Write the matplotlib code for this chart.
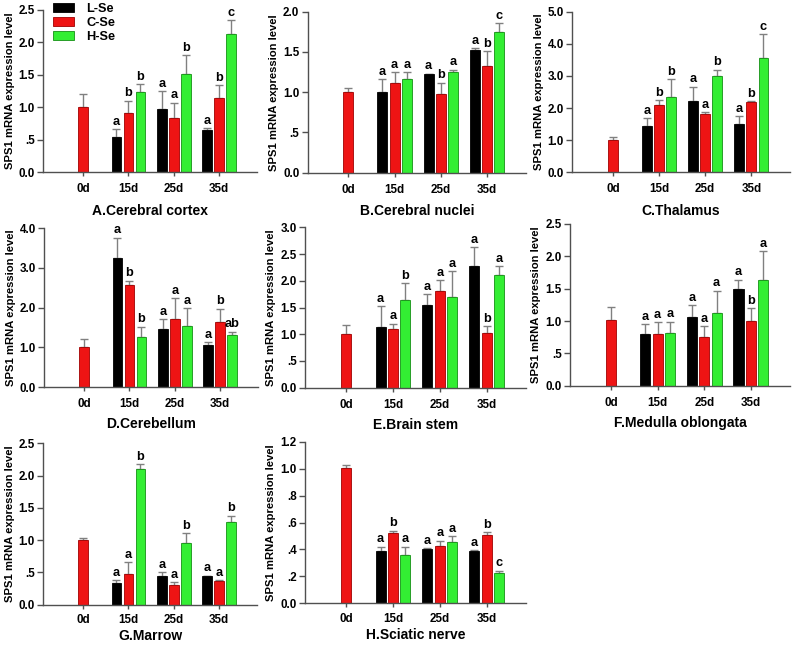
import numpy as np
import matplotlib
matplotlib.use("Agg")
import matplotlib.pyplot as plt
from matplotlib import font_manager as fm

# ---------------- data ----------------
days = ["0d", "15d", "25d", "35d"]
groups = ["L-Se", "C-Se", "H-Se"]
colors = ["#000000", "#ee1414", "#33ee33"]
edge_colors = ["#000000", "#a00000", "#159015"]

titles = ["A.Cerebral cortex", "B.Cerebral nuclei", "C.Thalamus",
          "D.Cerebellum", "E.Brain stem", "F.Medulla oblongata",
          "G.Marrow", "H.Sciatic nerve"]
ymax = [2.5, 2.0, 5.0, 4.0, 3.0, 2.5, 2.5, 1.2]
ystep = [0.5, 0.5, 1.0, 1.0, 0.5, 0.5, 0.5, 0.2]

# C-Se includes the 0d control; L-Se and H-Se are 15d, 25d, 35d
A_L = [0.55, 0.97, 0.65];  A_Le = [0.11, 0.28, 0.03]
A_C = [1.01, 0.91, 0.83, 1.14];  A_Ce = [0.19, 0.19, 0.24, 0.20]
A_H = [1.24, 1.51, 2.13];  A_He = [0.12, 0.29, 0.21]
A_sig = [["a", "b", "b"], ["a", "a", "b"], ["a", "b", "c"]]

B_L = [1.00, 1.22, 1.52];  B_Le = [0.16, 0.01, 0.03]
B_C = [1.00, 1.12, 0.98, 1.32];  B_Ce = [0.05, 0.13, 0.14, 0.19]
B_H = [1.17, 1.25, 1.75];  B_He = [0.08, 0.03, 0.11]
B_sig = [["a", "a", "a"], ["a", "b", "a"], ["a", "b", "c"]]

C_L = [1.44, 2.22, 1.51];  C_Le = [0.24, 0.45, 0.23]
C_C = [1.01, 2.10, 1.83, 2.20];  C_Ce = [0.09, 0.15, 0.04, 0.01]
C_H = [2.33, 3.00, 3.56];  C_He = [0.56, 0.19, 0.74]
C_sig = [["a", "b", "b"], ["a", "a", "b"], ["a", "b", "c"]]

D_L = [3.24, 1.46, 1.06];  D_Le = [0.52, 0.25, 0.07]
D_C = [1.02, 2.57, 1.72, 1.63];  D_Ce = [0.20, 0.11, 0.52, 0.34]
D_H = [1.27, 1.54, 1.31];  D_He = [0.25, 0.44, 0.08]
D_sig = [["a", "b", "b"], ["a", "a", "a"], ["a", "b", "ab"]]

E_L = [1.13, 1.54, 2.28];  E_Le = [0.39, 0.21, 0.35]
E_C = [1.01, 1.09, 1.81, 1.03];  E_Ce = [0.16, 0.11, 0.20, 0.12]
E_H = [1.64, 1.69, 2.11];  E_He = [0.32, 0.49, 0.16]
E_sig = [["a", "a", "b"], ["a", "a", "a"], ["a", "b", "a"]]

F_L = [0.80, 1.06, 1.49];  F_Le = [0.15, 0.18, 0.15]
F_C = [1.02, 0.80, 0.76, 1.00];  F_Ce = [0.20, 0.18, 0.16, 0.20]
F_H = [0.81, 1.12, 1.63];  F_He = [0.18, 0.35, 0.45]
F_sig = [["a", "a", "a"], ["a", "a", "a"], ["a", "b", "a"]]

G_L = [0.34, 0.45, 0.44];  G_Le = [0.04, 0.05, 0.01]
G_C = [1.00, 0.47, 0.31, 0.37];  G_Ce = [0.03, 0.19, 0.04, 0.01]
G_H = [2.10, 0.96, 1.28];  G_He = [0.08, 0.15, 0.10]
G_sig = [["a", "a", "b"], ["a", "a", "b"], ["a", "a", "b"]]

H_L = [0.386, 0.40, 0.39];  H_Le = [0.034, 0.01, 0.005]
H_C = [1.005, 0.525, 0.426, 0.507];  H_Ce = [0.025, 0.015, 0.04, 0.023]
H_H = [0.356, 0.455, 0.223];  H_He = [0.064, 0.045, 0.02]
H_sig = [["a", "b", "a"], ["a", "a", "a"], ["a", "b", "c"]]

panels = [
    (A_L, A_Le, A_C, A_Ce, A_H, A_He, A_sig),
    (B_L, B_Le, B_C, B_Ce, B_H, B_He, B_sig),
    (C_L, C_Le, C_C, C_Ce, C_H, C_He, C_sig),
    (D_L, D_Le, D_C, D_Ce, D_H, D_He, D_sig),
    (E_L, E_Le, E_C, E_Ce, E_H, E_He, E_sig),
    (F_L, F_Le, F_C, F_Ce, F_H, F_He, F_sig),
    (G_L, G_Le, G_C, G_Ce, G_H, G_He, G_sig),
    (H_L, H_Le, H_C, H_Ce, H_H, H_He, H_sig),
]

# ---------------- fonts ----------------
FAMS = ["Liberation Sans", "DejaVu Sans"]
plt.rcParams["font.family"] = FAMS
plt.rcParams["font.weight"] = "bold"


def fp(size):
    return fm.FontProperties(family=FAMS, weight="bold", size=size)


TICK_FS = 8.4
TITLE_FS = 10.0
YLAB_FS = 8.1
SIG_FS = 9.2
LEG_FS = 9.2

W, H = 794, 646
fig = plt.figure(figsize=(W / 100, H / 100), dpi=100)

# axes rectangles in pixels: (left, top, right, bottom)
rects_px = [
    (43.3, 10.0, 257, 172.3), (307.7, 11.7, 526, 172.7), (572.3, 11.7, 790, 172.3),
    (44.3, 228.3, 258, 387.0), (305.0, 227.3, 526, 387.7), (570.0, 224.0, 790, 385.7),
    (43.3, 443.3, 257, 604.7), (305.0, 441.7, 526, 603.3),
]
title_pad = [6, 6, 6, 5, 5, 5, 2, 2]

bw = 0.215
off = 0.265
spine_c = "#505050"
err_c = "#808080"


def fmt(v):
    s = f"{v:.1f}"
    if 0 < v < 1:
        s = s[1:]
    return s


for p, (rect, data) in enumerate(zip(rects_px, panels)):
    l, t, r, b = rect
    ax = fig.add_axes([l / W, 1 - b / H, (r - l) / W, (b - t) / H])
    Lm, Le, Cm, Ce, Hm, He, sig = data
    handles = []
    # 0d control (C-Se only)
    ax.bar(0, Cm[0], bw, color=colors[1], edgecolor=edge_colors[1], linewidth=0.6, zorder=2)
    ax.errorbar(0, Cm[0], yerr=[[0], [Ce[0]]], fmt="none", ecolor=err_c,
                elinewidth=1.0, capsize=2.6, capthick=1.0, zorder=1)
    series = [(Lm, Le), (Cm[1:], Ce[1:]), (Hm, He)]
    for g, (m, e) in enumerate(series):
        xs = np.arange(1, 4) + (g - 1) * off
        bars = ax.bar(xs, m, bw, color=colors[g], edgecolor=edge_colors[g],
                      linewidth=0.6, zorder=2, label=groups[g])
        handles.append(bars)
        ax.errorbar(xs, m, yerr=[np.zeros(3), e], fmt="none", ecolor=err_c,
                    elinewidth=1.0, capsize=2.6, capthick=1.0, zorder=1)
        for j in range(3):
            ax.annotate(sig[j][g], (xs[j], m[j] + e[j]), xytext=(0, 1.0),
                        textcoords="offset points", ha="center", va="bottom",
                        fontproperties=fp(SIG_FS))
    ax.set_xlim(-0.88, 3.84)
    ax.set_ylim(0, ymax[p])
    ticks = np.arange(0, ymax[p] + 1e-9, ystep[p])
    ax.set_yticks(ticks)
    ax.set_yticklabels([fmt(v) for v in ticks], fontproperties=fp(TICK_FS))
    ax.set_xticks(range(4))
    ax.set_xticklabels(days, fontproperties=fp(TICK_FS))
    ax.tick_params(axis="y", direction="out", length=4, width=1, color=spine_c, pad=2)
    ax.tick_params(axis="x", direction="out", length=3, width=1, color=spine_c,
                   pad=5 if p < 6 else 4)
    for s in ["top", "right"]:
        ax.spines[s].set_visible(False)
    for s in ["left", "bottom"]:
        ax.spines[s].set_color(spine_c)
        ax.spines[s].set_linewidth(1.0)
    ax.set_xlabel(titles[p], fontproperties=fp(TITLE_FS), labelpad=title_pad[p])
    ax.set_ylabel("SPS1 mRNA expression level", fontproperties=fp(YLAB_FS), labelpad=3)
    ax.set_facecolor("none")
    if p == 0:
        ax.legend(handles, groups, loc="upper left", frameon=False,
                  bbox_to_anchor=(10 / (r - l), 1 + 7 / (b - t)), borderaxespad=0,
                  borderpad=0, handlelength=1.6, handleheight=0.7,
                  handletextpad=1.0, labelspacing=0.15, prop=fp(LEG_FS))

fig.savefig("out.png", dpi=100)
